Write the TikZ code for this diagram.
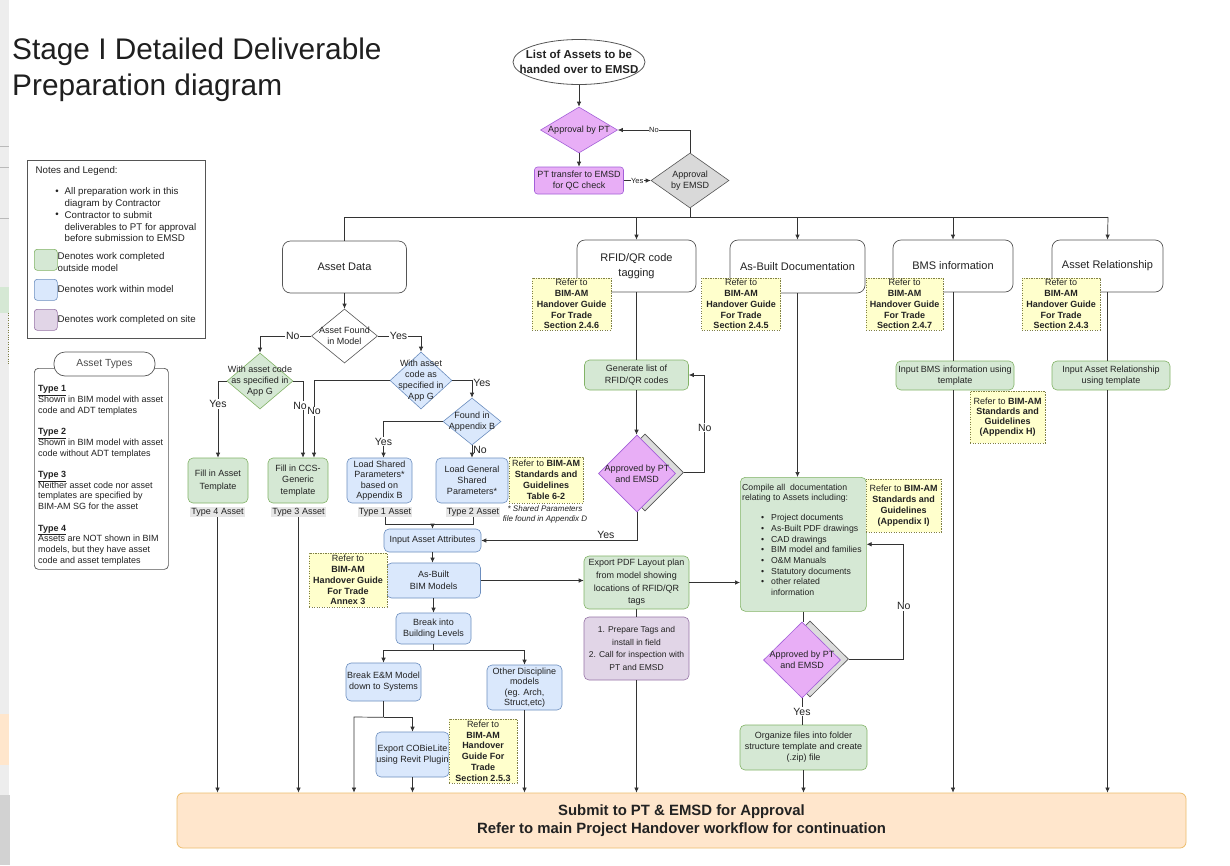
\documentclass[tikz,border=0pt]{standalone}
\usepackage{fontspec}
\setmainfont{Liberation Sans}
\usetikzlibrary{shapes.geometric,arrows.meta,calc}
\definecolor{gfill}{HTML}{D5E8D4}
\definecolor{gline}{HTML}{82B366}
\definecolor{bfill}{HTML}{DAE8FC}
\definecolor{bline}{HTML}{6C8EBF}
\definecolor{pfill}{HTML}{E1D5E7}
\definecolor{pline}{HTML}{9673A6}
\definecolor{mfill}{HTML}{E8AEF6}
\definecolor{mline}{HTML}{A35FD8}
\definecolor{yfill}{HTML}{FFFFCC}
\definecolor{yline}{HTML}{7F7F45}
\definecolor{ofill}{HTML}{FFE6CC}
\definecolor{oline}{HTML}{EDBE6E}
\definecolor{hline}{HTML}{555555}
\definecolor{lcol}{HTML}{333333}
\definecolor{gdfill}{HTML}{D9D9D9}
\definecolor{shfill}{HTML}{DCDCDC}
\definecolor{tgray}{HTML}{E6E6E6}
\definecolor{txt}{HTML}{222222}
\definecolor{artgray}{HTML}{EDEDED}
\newcommand{\myfs}[2]{\fontsize{#1}{#2}\selectfont}
\newcommand{\dianode}[7]{%
  \node[dia,#6,minimum width=#4pt,minimum height=#5pt] (#1) at (#2,#3) {};
  \node (#1-t) at (#2,#3) {#7};}
\tikzset{
  every node/.style={inner sep=0.5pt, font=\myfs{9}{11}, align=center, text=txt},
  gbox/.style={draw=gline, fill=gfill, rounded corners=5pt, line width=0.6pt},
  bbox/.style={draw=bline, fill=bfill, rounded corners=5pt, line width=0.6pt},
  pbox/.style={draw=pline, fill=pfill, rounded corners=5pt, line width=0.6pt},
  mbox/.style={draw=mline, fill=mfill, rounded corners=3pt, line width=0.6pt},
  hdr/.style={draw=hline, fill=white, rounded corners=8pt, line width=0.7pt, font=\myfs{11}{15}},
  ynote/.style={draw=yline, fill=yfill, dash pattern=on 1.2pt off 1.3pt, line width=0.8pt, inner sep=0pt, font=\myfs{9}{10.8}\bfseries},
  dia/.style={diamond, inner sep=0pt, line width=0.6pt},
  tlabel/.style={fill=tgray, inner sep=1pt, font=\myfs{9}{10}},
  lab/.style={fill=white, inner sep=1pt, font=\myfs{10.5}{12}},
  nlab/.style={inner sep=1pt, font=\myfs{10.5}{12}},
  slab/.style={fill=white, inner sep=0.5pt, font=\myfs{7.5}{8}},
  con/.style={draw=lcol, line width=0.7pt},
  arr/.style={con, -{Latex[length=5pt,width=4.5pt]}},
}
\begin{document}
\begin{tikzpicture}[x=1pt,y=-1pt]
\fill[white] (0,0) rectangle (1230,865);
\useasboundingbox (0,0) rectangle (1230,865);
% screenshot edge
\fill[artgray] (0,0) rectangle (9,865);
\draw[gray!55] (0,146) -- (9,146) (0,167) -- (9,167) (0,218) -- (9,218);
\fill[gfill] (0,287) rectangle (9,313);
\draw[yline, dotted] (8,313) -- (8,365);
\fill[ofill] (0,714) rectangle (9,765);
\fill[gray!35] (0,795) rectangle (10,865);

% title
\node[anchor=base west, font=\myfs{29.8}{36}, inner sep=0, text=black!88] (title1) at (12,59) {Stage I Detailed Deliverable};
\node[anchor=base west, font=\myfs{29.8}{36}, inner sep=0, text=black!88] (title2) at (12,95) {Preparation diagram};

% legend
\node[draw=hline, line width=0.7pt, minimum width=178pt, minimum height=178pt, anchor=north west, inner sep=0] (legend) at (27,160) {};
\node[anchor=west, font=\myfs{9.7}{11}] (lg0) at (35,171) {Notes and Legend:};
\node[font=\myfs{9.7}{11}] (lgb1) at (57,192.3) {•};
\node[anchor=west, align=left, font=\myfs{9.7}{11.2}] (lg1) at (64,198) {All preparation work in this\\diagram by Contractor};
\node[font=\myfs{9.7}{11}] (lgb2) at (57,215) {•};
\node[anchor=west, align=left, font=\myfs{9.7}{11.6}] (lg2) at (64,226.7) {Contractor to submit\\deliverables to PT for approval\\before submission to EMSD};
\node[gbox, rounded corners=3pt, minimum width=23pt, minimum height=21pt, anchor=north west] (lgG) at (34,249) {};
\node[anchor=west, align=left, font=\myfs{9.7}{12}] (lgGt) at (57,262) {Denotes work completed\\outside model};
\node[bbox, rounded corners=3pt, minimum width=23pt, minimum height=21pt, anchor=north west] (lgB) at (34,279) {};
\node[anchor=west, font=\myfs{9.7}{11}] (lgBt) at (57,289.5) {Denotes work within model};
\node[pbox, rounded corners=3pt, minimum width=23pt, minimum height=21pt, anchor=north west] (lgP) at (34,309) {};
\node[anchor=west, font=\myfs{9.7}{11}] (lgPt) at (57,319.5) {Denotes work completed on site};

% asset types
\node[draw=hline, rounded corners=4pt, line width=0.7pt, minimum width=134pt, minimum height=201pt, anchor=north west] (atbox) at (34,368) {};
\node[draw=hline, fill=white, rounded corners=11pt, line width=0.7pt, minimum width=101pt, minimum height=24pt, font=\myfs{10.3}{12}, text=black!70] (attitle) at (104.5,364) {Asset Types};
\node[anchor=north west, align=left, inner sep=0, font=\myfs{9}{10.7}] (attext) at (38,385.5) {\underline{\textbf{Type 1}}\\Shown in BIM model with asset\\code and ADT templates\\[10.7pt]\underline{\textbf{Type 2}}\\Shown in BIM model with asset\\code without ADT templates\\[10.7pt]\underline{\textbf{Type 3}}\\Neither asset code nor asset\\templates are specified by\\BIM-AM SG for the asset\\[10.7pt]\underline{\textbf{Type 4}}\\Assets are NOT shown in BIM\\models, but they have asset\\code and asset templates};

% top approval
\node[ellipse, draw=hline, fill=white, line width=0.8pt, minimum width=132pt, minimum height=45pt, inner sep=0] (list) at (579,62) {};
\node[font=\myfs{11.5}{14.3}\bfseries] (list-t) at (579,62) {List of Assets to be\\handed over to EMSD};
\dianode{ptdia}{579}{130}{77}{46}{fill=mfill, draw=mline}{Approval by PT}
\node[mbox, minimum width=89pt, minimum height=27pt] (pttr) at (579,180.5) {PT transfer to EMSD\\for QC check};
\dianode{emsd}{690}{180.5}{78}{55}{fill=gdfill, draw=hline}{Approval\\by EMSD}

% headers
\coordinate (busL) at (344.5,217);
\coordinate (busR) at (1108,217);
\node[hdr, minimum width=124pt, minimum height=52pt] (adata) at (344.5,267) {Asset Data};
\node[hdr, minimum width=119pt, minimum height=52pt] (rfid) at (636.5,266) {RFID/QR code\\tagging};
\node[hdr, minimum width=135pt, minimum height=53pt] (abd) at (797.5,266.5) {As-Built Documentation};
\node[hdr, minimum width=120pt, minimum height=52pt] (bms) at (953,266) {BMS information};
\node[hdr, minimum width=111pt, minimum height=52pt] (ar) at (1107.5,266) {Asset Relationship};
\node[ynote, minimum width=79pt, minimum height=52pt] (nrfid) at (571.5,304) {{\mdseries Refer to}\\BIM-AM\\Handover Guide\\For Trade\\Section 2.4.6};
\node[ynote, minimum width=79pt, minimum height=52pt] (nabd) at (741,304) {{\mdseries Refer to}\\BIM-AM\\Handover Guide\\For Trade\\Section 2.4.5};
\node[ynote, minimum width=77pt, minimum height=52pt] (nbms) at (904.5,304) {{\mdseries Refer to}\\BIM-AM\\Handover Guide\\For Trade\\Section 2.4.7};
\node[ynote, minimum width=78pt, minimum height=52pt] (nar) at (1061,304) {{\mdseries Refer to}\\BIM-AM\\Handover Guide\\For Trade\\Section 2.4.3};

% asset data branch
\dianode{found}{344.5}{336}{66}{54}{fill=white, draw=hline}{Asset Found\\in Model}
\dianode{gdia}{260}{381}{66}{56}{fill=gfill, draw=gline}{With asset code\\as specified in\\App G}
\dianode{bdia}{421}{380.5}{62}{57}{fill=bfill, draw=bline}{With asset\\code as\\specified in\\App G}
\dianode{fab}{472}{421.5}{58}{47}{fill=bfill, draw=bline}{Found in\\Appendix B}
\node[gbox, minimum width=60pt, minimum height=45pt, font=\myfs{9}{12.5}] (fat) at (218,480.5) {Fill in Asset\\Template};
\node[gbox, minimum width=60pt, minimum height=45pt, font=\myfs{9}{11.5}] (fccs) at (298,480.5) {Fill in CCS-\\Generic\\template};
\node[bbox, minimum width=65pt, minimum height=45pt, font=\myfs{9}{10.4}] (lsp) at (379.5,480.5) {Load Shared\\Parameters*\\based on\\Appendix B};
\node[bbox, minimum width=72pt, minimum height=45pt, font=\myfs{9}{10.8}] (lgs) at (472,480.5) {Load General\\Shared\\Parameters*};
\node[tlabel] (t4) at (217.5,512) {Type 4 Asset};
\node[tlabel] (t3) at (298.5,512) {Type 3 Asset};
\node[tlabel] (t1) at (385,512) {Type 1 Asset};
\node[tlabel] (t2) at (473,512) {Type 2 Asset};
\node[ynote, minimum width=74pt, minimum height=46pt, font=\myfs{9}{11}\bfseries] (nsp) at (546,480) {{\mdseries Refer to} BIM-AM\\Standards and\\Guidelines\\Table 6-2};
\node[font=\myfs{8}{10}\itshape] (spfoot) at (545,514) {* Shared Parameters\\file found in Appendix D};
\node[bbox, minimum width=97pt, minimum height=23pt] (iaa) at (432.5,540.5) {Input Asset Attributes};
\node[bbox, minimum width=94pt, minimum height=35pt, font=\myfs{9}{12}] (abm) at (433.5,580.5) {As-Built\\BIM Models};
\node[ynote, minimum width=78pt, minimum height=54pt] (nann) at (348,580) {{\mdseries Refer to}\\BIM-AM\\Handover Guide\\For Trade\\Annex 3};
\node[bbox, minimum width=75pt, minimum height=31pt] (bbl) at (433.5,628.5) {Break into\\Building Levels};
\node[bbox, minimum width=75pt, minimum height=38pt] (em) at (383.5,682) {Break E\&M Model\\down to Systems};
\node[bbox, minimum width=75pt, minimum height=45pt, font=\myfs{9}{10.5}] (od) at (524.5,687.5) {Other Discipline\\models\\(eg. Arch,\\Struct,etc)};
\node[bbox, minimum width=73pt, minimum height=45pt] (cobie) at (412.5,754.5) {Export COBieLite\\using Revit Plugin};
\node[ynote, minimum width=68pt, minimum height=64pt] (ncob) at (483,751) {{\mdseries Refer to}\\BIM-AM\\Handover\\Guide For\\Trade\\Section 2.5.3};

% RFID branch
\node[gbox, minimum width=104pt, minimum height=30pt, font=\myfs{9}{12.5}] (gen) at (636.5,375) {Generate list of\\RFID/QR codes};
\node[dia, fill=shfill, draw=hline, minimum width=77pt, minimum height=77pt] (rdiash) at (645,472.5) {};
\dianode{rdia}{637}{473.5}{77}{77}{fill=mfill, draw=mline}{Approved by PT\\and EMSD}
\node[gbox, minimum width=105pt, minimum height=53pt, font=\myfs{9}{12.6}] (expdf) at (636.5,582.5) {Export PDF Layout plan\\from model showing\\locations of RFID/QR\\tags};
\node[pbox, minimum width=105pt, minimum height=63pt, font=\myfs{8.5}{12.5}] (prep) at (636.5,648.5) {1. Prepare Tags and\\install in field\\2. Call for inspection with\\PT and EMSD};

% As-built branch
\node[gbox, minimum width=126pt, minimum height=134pt, anchor=north west] (comp) at (740,477) {};
\node[anchor=north west, align=left, inner sep=0, font=\myfs{8.7}{10.7}] (comp-t) at (742,483.5) {Compile all\ \ documentation\\relating to Assets including:\\[9.3pt]\hspace*{19pt}\makebox[10pt][l]{•}Project documents\\\hspace*{19pt}\makebox[10pt][l]{•}As-Built PDF drawings\\\hspace*{19pt}\makebox[10pt][l]{•}CAD drawings\\\hspace*{19pt}\makebox[10pt][l]{•}BIM model and families\\\hspace*{19pt}\makebox[10pt][l]{•}O\&M Manuals\\\hspace*{19pt}\makebox[10pt][l]{•}Statutory documents\\\hspace*{19pt}\makebox[10pt][l]{•}other related\\\hspace*{29pt}information};
\node[ynote, minimum width=75pt, minimum height=53pt] (ncomp) at (903.5,505.5) {{\mdseries Refer to} BIM-AM\\Standards and\\Guidelines\\(Appendix I)};
\node[dia, fill=shfill, draw=hline, minimum width=77pt, minimum height=76pt] (adiash) at (810,659) {};
\dianode{adia}{802}{660}{77}{76}{fill=mfill, draw=mline}{Approved by PT\\and EMSD}
\node[gbox, minimum width=127pt, minimum height=45pt] (org) at (803.5,747.5) {Organize files into folder\\structure template and create\\(.zip) file};

% BMS / relationship
\node[gbox, minimum width=118pt, minimum height=29pt] (bmsin) at (955,375.5) {Input BMS information using\\template};
\node[ynote, minimum width=75pt, minimum height=52pt, font=\myfs{9}{10.2}\bfseries] (nbmsh) at (1007.5,417) {{\mdseries Refer to} BIM-AM\\Standards and\\Guidelines\\(Appendix H)};
\node[gbox, minimum width=118pt, minimum height=29pt] (arin) at (1111,375.5) {Input Asset Relationship\\using template};

% submit
\node[fill=ofill, draw=oline, rounded corners=6pt, line width=0.8pt, minimum width=1009pt, minimum height=55pt, font=\myfs{14.9}{18}\bfseries] (submit) at (681.5,820.5) {Submit to PT \& EMSD for Approval\\Refer to main Project Handover workflow for continuation};

% ---------- connectors ----------
\draw[arr] (list.south) -- (ptdia.north);
\draw[arr] (ptdia.south) -- (pttr.north);
\draw[arr] (pttr.east) -- node[slab]{Yes} (emsd.west);
\draw[arr] (emsd.north) |- node[slab,pos=0.75]{No} (ptdia.east);
\draw[con] (emsd.south) -- (emsd.south |- busL);
\draw[con] (busL) -- (busR);
\draw[con] (busL) -- (adata.north);
\draw[arr] (rfid.north |- busL) -- (rfid.north);
\draw[arr] (abd.north |- busL) -- (abd.north);
\draw[arr] (bms.north |- busL) -- (bms.north);
\draw[arr] (busR) -- (ar.north);

\draw[arr] (adata.south) -- (found.north);
\draw[arr] (found.west) -| node[lab,pos=0.18]{No} (gdia.north);
\draw[arr] (found.east) -| node[lab,pos=0.24]{Yes} (bdia.north);
\draw[arr] (gdia.west) -| node[lab,pos=0.65]{Yes} (fat.north);
\draw[arr] (gdia.east) -| node[lab,pos=0.66,xshift=-3pt]{No} ([xshift=5pt]fccs.north);
\draw[arr] (bdia.west) -| node[lab,pos=0.70]{No} ([xshift=16pt]fccs.north);
\draw[arr] (bdia.east) -| node[nlab,pos=0.56,anchor=west]{Yes} (fab.north);
\draw[arr] (fab.west) -| node[lab,pos=0.78]{Yes} ([xshift=4pt]lsp.north);
\draw[arr] (fab.south) -- node[nlab,pos=0.35,anchor=west]{No} (lgs.north);
\draw[arr] (t4.south) -- (t4.south |- submit.north);
\draw[arr] (t3.south) -- (t3.south |- submit.north);
\coordinate (j12) at (432.5,524);
\draw[con] (t1.south) |- (j12) -| (t2.south);
\draw[arr] (j12) -- (iaa.north);
\draw[arr] (iaa.south) -- (iaa.south |- abm.north);
\draw[arr] (abm.east) -- (abm.east -| expdf.west);
\draw[arr] (abm.south) -- (bbl.north);
\coordinate (jb) at ($(bbl.south)+(0,6)$);
\draw[con] (bbl.south) -- (jb);
\draw[arr] (jb) -| (em.north);
\draw[arr] (jb) -| (od.north);
\coordinate (je) at ($(em.south)+(0,16)$);
\coordinate (jl) at (354,717);
\draw[con] (em.south) -- (je);
\draw[arr] (je) -| (cobie.north);
\draw[arr] (je) -- (jl) -- (jl |- submit.north);
\draw[arr] (cobie.south) -- (cobie.south |- submit.north);
\draw[arr] (od.south) -- (od.south |- submit.north);

\draw[con] (rfid.south) -- (rfid.south |- gen.north);
\draw[arr] (gen.south) -- (gen.south |- rdia.north);
\draw[arr] (rdiash.east) -- ++(21,0) |- node[lab,pos=0.23]{No} (gen.east);
\draw[arr] (rdia.south) |- node[nlab,pos=0.6,above=1pt]{Yes} (iaa.east);
\draw[con] (expdf.south) -- (prep.north);
\draw[arr] (prep.south) -- (prep.south |- submit.north);
\draw[arr] (expdf.east) -- (expdf.east -| comp.west);

\draw[arr] (abd.south) -- (abd.south |- comp.north);
\draw[con] (comp.south) -- (comp.south |- adia.north);
\draw[arr] (adiash.east) -- ++(55,0) |- node[lab,pos=0.23]{No} (comp.east);
\draw[con] (adia.south) -- node[lab]{Yes} (adia.south |- org.north);
\draw[arr] (org.south) -- (org.south |- submit.north);

\draw[con] (bms.south) -- (bms.south |- bmsin.north);
\draw[arr] (bms.south |- bmsin.south) -- (bms.south |- submit.north);
\draw[con] (ar.south) -- (ar.south |- arin.north);
\draw[arr] (ar.south |- arin.south) -- (ar.south |- submit.north);
\end{tikzpicture}
\end{document}
